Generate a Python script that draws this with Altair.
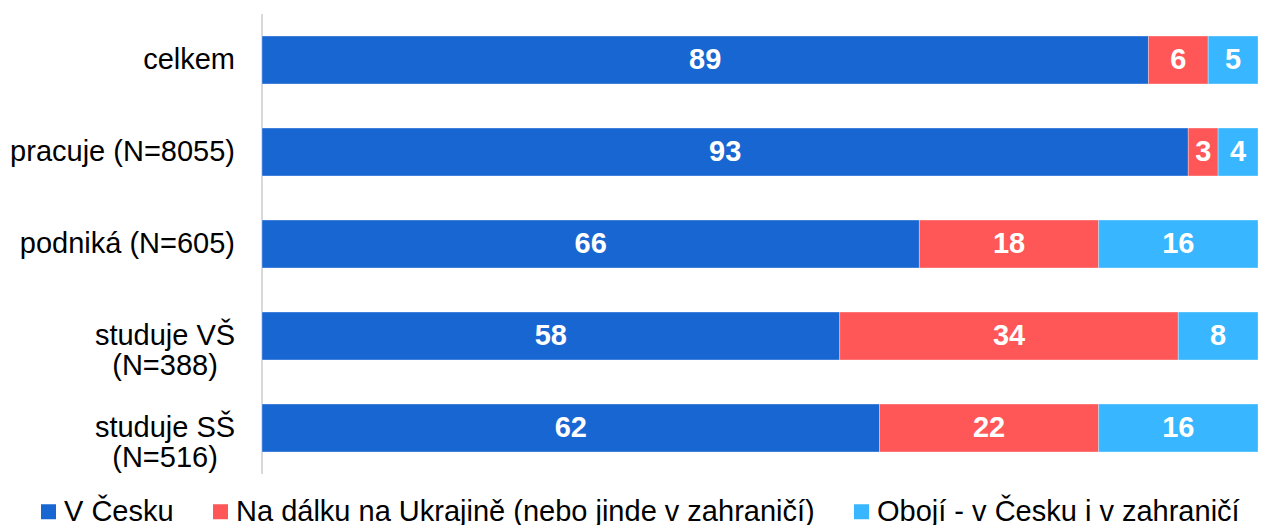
import altair as alt
import pandas as pd

categories = ["celkem", "pracuje (N=8055)", "podniká (N=605)", "studuje VŠ\n(N=388)", "studuje SŠ\n(N=516)"]
series = ["V Česku", "Na dálku na Ukrajině (nebo jinde v zahraničí)", "Obojí - v Česku i v zahraničí"]
v_cesku = [89, 93, 66, 58, 62]
na_dalku = [6, 3, 18, 34, 22]
oboji = [5, 4, 16, 8, 16]
colors = ["#1866D2", "#FF5757", "#38B6FF"]

rows = []
for i, c in enumerate(categories):
    for j, (s, vals) in enumerate(zip(series, [v_cesku, na_dalku, oboji])):
        rows.append({"cat": c, "series": s, "order": j, "value": vals[i]})
df = pd.DataFrame(rows)

labels_df = pd.DataFrame({"cat": categories, "multi": ["\n" in c for c in categories]})

FONT = "Liberation Sans"

y_scale = alt.Scale(paddingInner=0.48, paddingOuter=0.24)
y_plain = alt.Y("cat:N", sort=categories, scale=y_scale, axis=None)

base = alt.Chart(df).transform_stack(
    stack="value", as_=["x0", "x1"], groupby=["cat"],
    sort=[alt.SortField("order", "ascending")]
).transform_calculate(mid="(datum.x0 + datum.x1) / 2")

bars = base.mark_bar(stroke="white", strokeWidth=0.6, strokeOpacity=0.5).encode(
    y=y_plain,
    x=alt.X("x0:Q", scale=alt.Scale(domain=[0, 100], nice=False), axis=None),
    x2="x1:Q",
    color=alt.Color("series:N", sort=series,
                    scale=alt.Scale(domain=series, range=colors),
                    legend=alt.Legend(orient="none", direction="horizontal",
                                      legendX=-228, legendY=483, title=None,
                                      symbolType="square", symbolSize=225,
                                      symbolStrokeWidth=0,
                                      labelFont=FONT, labelFontSize=29,
                                      labelColor="#000", columnPadding=32,
                                      labelOffset=1, labelLimit=900)),
)

axis_line = alt.Chart(labels_df).mark_rule(color="#d9d9d9", strokeWidth=2).encode(
    x=alt.value(0), y=alt.value(0), y2=alt.value(460)
)

nums = base.mark_text(font=FONT, fontSize=29, fontWeight="bold", color="white",
                      align="center", baseline="middle").encode(
    y=y_plain,
    x=alt.X("mid:Q", axis=None),
    text=alt.Text("value:Q"),
)

single = alt.Chart(labels_df).transform_filter("!datum.multi").mark_text(
    font=FONT, fontSize=29, color="#000", align="right", baseline="middle"
).encode(y=y_plain, x=alt.value(-27), text="cat:N")

multi = alt.Chart(labels_df).transform_filter("datum.multi").mark_text(
    font=FONT, fontSize=29, color="#000", align="center", baseline="middle",
    lineBreak="\n", lineHeight=30
).encode(y=y_plain, x=alt.value(-97), text="cat:N")

chart = alt.layer(axis_line, bars, nums, single, multi).properties(
    width=996, height=460,
    background="white",
    autosize=alt.AutoSizeParams(type="none"),
    padding={"left": 254, "top": 6, "right": 0, "bottom": 70},
).configure_view(stroke="transparent", strokeWidth=0
).configure_axis(grid=False)

chart.save("out.html", embed_options={"renderer": "svg", "actions": False})
